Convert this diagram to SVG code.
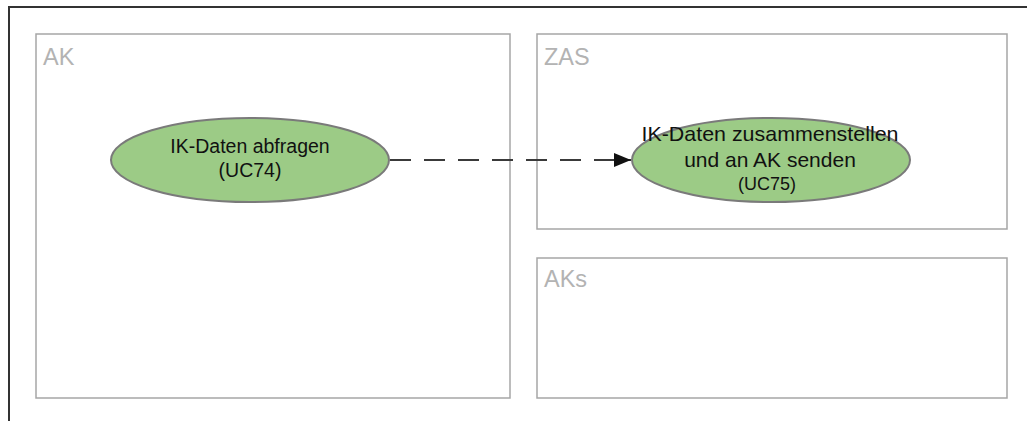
<svg xmlns="http://www.w3.org/2000/svg" width="1027" height="421" viewBox="0 0 1027 421">
  <style>
    .frame { fill: none; stroke: #333333; stroke-width: 2; }
    .box { fill: #ffffff; stroke: #a6a6a6; stroke-width: 1.5; }
    .boxlabel { font-family: "Liberation Sans", Arial, sans-serif; font-size: 23.5px; fill: #b3b3b3; }
    .uc { fill: #9ccb86; stroke: #7a7a7a; stroke-width: 2; }
    .uctext { font-family: "Liberation Sans", Arial, sans-serif; fill: #111111; text-anchor: middle; }
    .conn { fill: none; stroke: #3a3a3a; stroke-width: 2; stroke-dasharray: 21 13; }
  </style>
  <defs>
    <marker id="arrow" markerWidth="17" markerHeight="14" refX="17" refY="7" orient="auto" markerUnits="userSpaceOnUse">
      <path d="M0,0 L17,7 L0,14 Z" fill="#111111"/>
    </marker>
  </defs>
  <rect x="0" y="0" width="1027" height="421" fill="#ffffff"/>
  <path class="frame" d="M9,430 L9,7 L1040,7"/>

  <g id="AK">
    <rect class="box" x="36" y="34" width="474" height="364"/>
    <text class="boxlabel" x="43" y="65">AK</text>
  </g>
  <g id="ZAS">
    <rect class="box" x="537" y="34" width="470" height="195"/>
    <text class="boxlabel" x="544" y="65">ZAS</text>
  </g>
  <g id="AKs">
    <rect class="box" x="537" y="258" width="470" height="140"/>
    <text class="boxlabel" x="544" y="287">AKs</text>
  </g>

  <g id="connectors">
    <line class="conn" x1="390" y1="160" x2="631" y2="160" marker-end="url(#arrow)"/>
  </g>

  <g id="UC74">
    <ellipse class="uc" cx="250" cy="160" rx="139" ry="42"/>
    <text class="uctext" x="250" y="153" font-size="19.5">IK-Daten abfragen</text>
    <text class="uctext" x="250" y="177" font-size="19.5">(UC74)</text>
  </g>

  <g id="UC75">
    <ellipse class="uc" cx="771" cy="160" rx="139" ry="42"/>
    <text class="uctext" x="770" y="141" font-size="21" textLength="257" lengthAdjust="spacingAndGlyphs">IK-Daten zusammenstellen</text>
    <text class="uctext" x="770" y="167" font-size="21">und an AK senden</text>
    <text class="uctext" x="767" y="190" font-size="18">(UC75)</text>
  </g>
</svg>
